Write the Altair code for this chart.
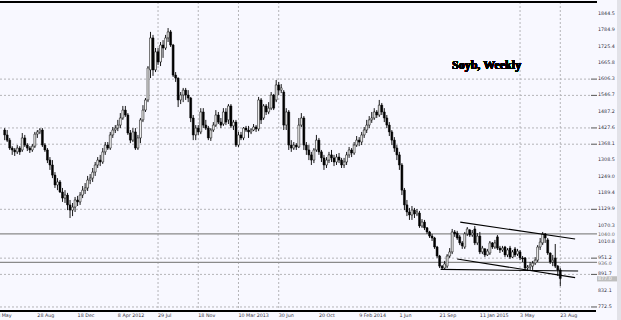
import altair as alt
import pandas as pd

# weekly bars; bar index 0 = week of 8 May 2011, first visible bar is index 3
FIRST_BAR = 3
opens = [1420,1402,1383,1354,1347,1340,1354,1347,1391,1365,
         1354,1347,1361,1405,1413,1420,1365,1347,1310,1292,
         1255,1219,1230,1193,1171,1182,1146,1127,1138,1164,
         1157,1182,1200,1208,1237,1244,1266,1292,1310,1303,
         1340,1365,1354,1402,1420,1427,1438,1464,1493,1475,
         1409,1383,1413,1354,1391,1457,1493,1530,1640,1757,
         1640,1706,1669,1731,1720,1757,1779,1731,1621,1610,
         1530,1548,1566,1548,1537,1464,1402,1427,1413,1486,
         1438,1427,1391,1420,1438,1475,1449,1442,1486,1457,
         1508,1435,1449,1365,1402,1391,1427,1420,1413,1420,
         1431,1424,1530,1464,1508,1486,1500,1548,1530,1585,
         1566,1559,1438,1486,1365,1354,1365,1358,1438,1464,
         1365,1347,1329,1310,1347,1383,1340,1318,1292,1310,
         1329,1318,1303,1321,1310,1292,1303,1329,1347,1336,
         1365,1383,1376,1402,1420,1438,1457,1464,1486,1475,
         1511,1486,1464,1438,1413,1383,1354,1329,1292,1200,
         1146,1120,1109,1127,1113,1116,1069,1083,1062,1047,
         1032,1025,992,959,922,915,922,959,974,1047,
         1043,1029,1007,992,1040,1054,1036,1058,1007,1032,
         974,985,963,970,1007,992,1029,988,981,992,
         963,988,955,985,966,974,952,952,915,919,
         922,933,944,992,1007,1040,1018,970,937,952,
         922,908]
highs = [1427,1420,1391,1361,1354,1365,1361,1409,1402,1372,
         1361,1369,1413,1420,1427,1427,1372,1354,1321,1310,
         1266,1244,1237,1208,1200,1190,1164,1153,1175,1179,
         1193,1215,1226,1252,1259,1281,1303,1321,1329,1354,
         1376,1376,1413,1431,1438,1457,1482,1508,1508,1482,
         1420,1427,1427,1402,1464,1511,1537,1654,1779,1768,
         1720,1720,1742,1749,1768,1793,1786,1735,1632,1612,
         1559,1574,1574,1566,1541,1475,1438,1438,1500,1500,
         1457,1435,1427,1449,1493,1486,1464,1500,1500,1515,
         1515,1457,1457,1413,1413,1431,1435,1435,1427,1442,
         1438,1541,1537,1515,1515,1522,1559,1552,1603,1596,
         1588,1566,1500,1493,1383,1376,1372,1464,1482,1471,
         1376,1365,1340,1354,1402,1391,1347,1329,1321,1340,
         1347,1329,1332,1336,1318,1318,1340,1358,1354,1376,
         1398,1394,1413,1431,1457,1471,1486,1500,1493,1530,
         1519,1500,1475,1449,1420,1394,1365,1340,1299,1208,
         1164,1135,1142,1135,1131,1124,1094,1091,1065,1051,
         1040,1029,996,963,926,941,966,988,1058,1054,
         1051,1036,1014,1047,1065,1058,1054,1069,1043,1047,
         996,988,985,1014,1010,1018,1036,996,996,996,
         988,996,981,992,985,981,959,955,926,937,
         941,955,999,1025,1047,1043,1025,972,963,1003,
         926,915]
lows = [1383,1376,1347,1329,1325,1332,1329,1340,1358,1343,
        1336,1340,1354,1391,1405,1358,1340,1299,1274,1244,
        1208,1200,1190,1157,1153,1127,1098,1105,1120,1142,
        1146,1171,1186,1197,1222,1230,1252,1281,1288,1296,
        1329,1347,1347,1391,1409,1416,1427,1457,1468,1402,
        1372,1376,1347,1347,1372,1449,1486,1522,1610,1618,
        1632,1658,1654,1684,1713,1742,1724,1614,1596,1504,
        1515,1522,1530,1522,1449,1383,1383,1402,1405,1427,
        1420,1383,1380,1413,1431,1442,1427,1435,1438,1442,
        1427,1420,1358,1358,1383,1383,1413,1391,1405,1416,
        1413,1416,1442,1457,1475,1478,1493,1493,1522,1548,
        1555,1420,1420,1347,1340,1347,1347,1354,1431,1347,
        1329,1310,1292,1299,1340,1329,1303,1274,1281,1299,
        1303,1288,1292,1299,1281,1281,1292,1318,1321,1329,
        1358,1361,1365,1391,1409,1427,1446,1457,1464,1468,
        1475,1449,1427,1398,1365,1340,1310,1274,1182,1127,
        1105,1091,1091,1098,1105,1062,1062,1054,1040,1025,
        1014,985,952,915,908,908,915,952,966,1029,
        1018,999,985,985,1032,1029,1029,999,999,966,
        966,955,959,963,985,985,981,970,974,955,
        955,948,952,955,959,944,937,908,904,908,
        908,926,937,981,999,1007,963,930,922,915,
        886,849]
closes = [1402,1383,1354,1347,1340,1354,1340,1391,1365,1354,
          1347,1361,1405,1413,1420,1365,1347,1310,1292,1255,
          1219,1230,1193,1171,1182,1146,1127,1138,1164,1157,
          1182,1200,1208,1237,1244,1266,1292,1310,1303,1340,
          1365,1354,1402,1420,1427,1438,1464,1493,1475,1409,
          1383,1413,1354,1391,1457,1493,1530,1647,1757,1640,
          1706,1669,1731,1720,1757,1779,1731,1621,1610,1530,
          1548,1566,1548,1537,1464,1402,1427,1413,1486,1438,
          1427,1391,1420,1438,1475,1449,1438,1486,1449,1508,
          1435,1449,1365,1402,1391,1427,1420,1413,1420,1431,
          1424,1530,1457,1508,1486,1500,1548,1500,1585,1566,
          1574,1438,1486,1365,1354,1365,1358,1438,1464,1365,
          1347,1329,1310,1347,1383,1340,1318,1292,1310,1329,
          1318,1303,1321,1310,1292,1303,1329,1347,1336,1365,
          1383,1376,1402,1420,1438,1457,1464,1486,1475,1511,
          1486,1464,1438,1413,1383,1354,1329,1292,1200,1146,
          1120,1109,1127,1113,1120,1069,1083,1062,1047,1032,
          1025,992,959,922,915,930,959,974,1047,1040,
          1025,1007,996,1040,1058,1036,1043,1007,1032,974,
          988,963,977,1007,992,1007,988,981,988,963,
          981,955,974,963,977,952,948,915,919,926,
          933,944,992,1010,1040,1025,970,937,944,922,
          908,877]

# right price scale
price_labels = ["1844.5", "1784.9", "1725.4", "1665.8", "1606.3", "1546.7", "1487.2",
                "1427.6", "1368.1", "1308.5", "1249.0", "1189.4", "1129.9", "1070.3",
                "1010.8", "951.2", "891.7", "832.1", "772.5"]
grid_labels = ["1606.3", "1546.7", "1427.6", "1368.1", "1129.9", "951.2", "891.7", "772.5"]

# time scale (bar index, text)
date_idx = [0, 16, 32, 48, 64, 80, 96, 112, 128, 144, 160, 176, 192, 208, 224]
date_text = ["8 May", "28 Aug", "18 Dec", "8 Apr 2012", "29 Jul", "18 Nov", "10 Mar 2013",
             "30 Jun", "20 Oct", "9 Feb 2014", "1 Jun", "21 Sep", "11 Jan 2015", "3 May", "23 Aug"]
vgrid_idx = [64, 80, 96, 112, 208, 224]

# horizontal levels and trend lines
level_prices = [1040.0, 936.0]
level_text = ["1040.0", "936.0"]
tl_x1 = [184.2, 183.0, 176.4]
tl_p1 = [1083, 948, 910]
tl_x2 = [229.9, 229.9, 231.1]
tl_p2 = [1021, 880, 904]

W, H = 595, 309
BG = "#F8F8FF"
FS = 4.8
xs = alt.Scale(domain=[3.13, 235.82], nice=False, zero=False)
ys = alt.Scale(domain=[757.8, 1888.4], nice=False, zero=False)

bars = pd.DataFrame({"bar": list(range(FIRST_BAR, FIRST_BAR + len(closes))),
                     "open": opens, "high": highs, "low": lows, "close": closes})

X = lambda f: alt.X(f, type="quantitative", scale=xs, axis=None)
Y = lambda f: alt.Y(f, type="quantitative", scale=ys, axis=None)

plabels = pd.DataFrame({"label": price_labels, "price": [float(v) for v in price_labels]})
glines = pd.DataFrame({"price": [float(v) for v in grid_labels]})
vg = pd.DataFrame({"bar": vgrid_idx})
dl = pd.DataFrame({"bar": date_idx, "label": date_text})
lv = pd.DataFrame({"price": level_prices, "label": level_text})
tl = pd.DataFrame({"x1": tl_x1, "p1": tl_p1, "x2": tl_x2, "p2": tl_p2})
cur = pd.DataFrame({"price": [closes[-1]], "label": [f"{closes[-1]:.1f}"]})

hgrid = alt.Chart(glines).mark_rule(color="#B4B4B8", strokeDash=[2, 2], strokeWidth=1).encode(
    y=Y("price"), x=alt.value(0), x2=alt.value(591))
hdash = alt.Chart(glines).mark_rule(color="#555555", strokeWidth=1).encode(
    y=Y("price"), x=alt.value(591), x2=alt.value(597))
vgrid = alt.Chart(vg).mark_rule(color="#B4B4B8", strokeDash=[2, 2], strokeWidth=1).encode(
    x=X("bar"), y=alt.value(0), y2=alt.value(H))
levels = alt.Chart(lv).mark_rule(color="#8A8A8A", strokeWidth=1.2).encode(
    y=Y("price"), x=alt.value(0), x2=alt.value(597))
level_lbl = alt.Chart(lv).mark_text(align="left", baseline="middle", fontSize=FS, dy=1.5,
                                    font="DejaVu Sans", color="#666666").encode(
    y=Y("price"), x=alt.value(598), text="label:N")

wicks = alt.Chart(bars).mark_rule(color="black", strokeWidth=0.9).encode(
    x=X("bar"), y=Y("low"), y2="high:Q")
bodies = alt.Chart(bars).mark_bar(size=1.9, stroke="black", strokeWidth=0.55).encode(
    x=X("bar"), y=Y("open"), y2="close:Q",
    fill=alt.condition("datum.close > datum.open", alt.value("white"), alt.value("black")))

trend = alt.Chart(tl).mark_rule(color="black", strokeWidth=1.1).encode(
    x=X("x1"), x2="x2:Q", y=Y("p1"), y2="p2:Q")

top_line = alt.Chart(plabels).mark_rule(color="black", strokeWidth=1.4).encode(
    x=alt.value(0), x2=alt.value(597), y=alt.value(0))
bottom_line = alt.Chart(plabels).mark_rule(color="black", strokeWidth=1.4).encode(
    x=alt.value(0), x2=alt.value(596), y=alt.value(H))
edge = alt.Chart(plabels).mark_rect(color="#E2E2E8").encode(
    x=alt.value(617), x2=alt.value(621), y=alt.value(-2), y2=alt.value(318))

ptext = alt.Chart(plabels).mark_text(align="left", baseline="middle", fontSize=FS,
                                     font="DejaVu Sans", color="#333344").encode(
    y=Y("price"), x=alt.value(598), text="label:N")
dtext = alt.Chart(dl).mark_text(align="left", baseline="middle", fontSize=FS,
                                font="DejaVu Sans", color="#333344").encode(
    x=X("bar"), y=alt.value(H + 4.5), text="label:N")

cur_box = alt.Chart(cur).transform_calculate(lo="datum.price - 11", hi="datum.price + 8").mark_rect(
    color="#BEBEBE").encode(y=Y("lo"), y2="hi:Q", x=alt.value(597), x2=alt.value(617))
cur_txt = alt.Chart(cur).mark_text(align="left", baseline="middle", fontSize=FS, dy=1,
                                   font="DejaVu Sans", color="white").encode(
    y=Y("price"), x=alt.value(598), text="label:N")

title = alt.Chart(plabels).mark_text(align="left", baseline="alphabetic", fontSize=12,
                                     font="Liberation Serif", fontWeight="bold",
                                     color="black").encode(
    x=alt.value(452), y=alt.value(67), text=alt.value("Soyb, Weekly"))

chart = alt.layer(
    hgrid, vgrid, levels, wicks, bodies, trend, hdash, top_line, bottom_line,
    ptext, level_lbl, cur_box, cur_txt, dtext, title, edge
).properties(
    width=W, height=H,
    autosize=alt.AutoSizeParams(type="none"),
    padding={"left": 0, "top": 2, "right": 26, "bottom": 9},
    background=BG,
).configure_view(stroke=None, fill=BG)

chart.save("out.html", embed_options={"renderer": "svg", "actions": False})
